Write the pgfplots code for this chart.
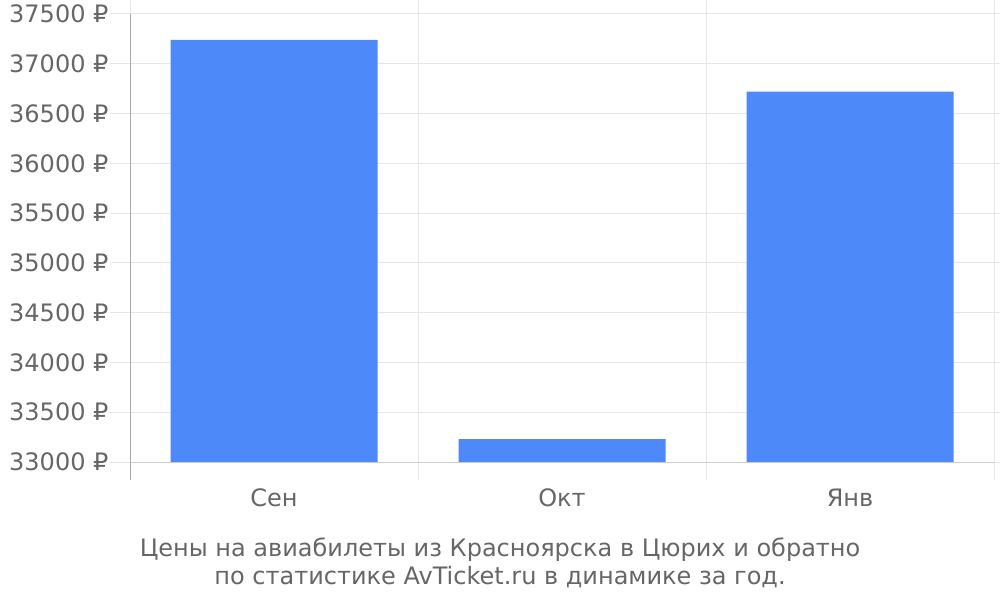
\documentclass[border=0pt]{standalone}
\usepackage{pgfplots}
\pgfplotsset{compat=1.18}
\usepackage{fontspec}
\setmainfont{DejaVu Sans}
\definecolor{barblue}{HTML}{4D89F9}
\definecolor{gridgray}{HTML}{E6E6E6}
\definecolor{axisgray}{HTML}{AAAAAA}
\definecolor{basegray}{HTML}{CCCCCC}
\definecolor{txtgray}{HTML}{666666}
\begin{document}
\begin{tikzpicture}[x=1pt,y=1pt]
\useasboundingbox (0,0) rectangle (1000,600);
\begin{axis}[
    at={(130pt,138pt)}, anchor=south west,
    scale only axis, width=864pt, height=448pt,
    xmin=-0.5, xmax=2.5, ymin=33000, ymax=37500,
    axis line style={draw=none},
    xtick={0,1,2}, xticklabels={Сен,Окт,Янв},
    major x tick style={draw=none},
    minor xtick={-0.5,0.5,1.5,2.5},
    minor x tick style={draw=gridgray, line width=1pt},
    minor tick length=18pt,
    minor x grid style={draw=gridgray, line width=1pt},
    xminorgrids=true,
    scaled y ticks=false,
    ytick={33000,33500,...,37500},
    yticklabel={\pgfmathprintnumber[fixed,precision=0,1000 sep={}]{\tick}~₽},
    ymajorgrids=true,
    major y grid style={draw=gridgray, line width=1pt},
    y tick style={draw=gridgray, line width=1pt},
    major tick length=20pt,
    tick align=outside,
    ticklabel style={font=\fontsize{24}{28}\selectfont, text=txtgray},
    xticklabel style={anchor=base, yshift=-24pt},
    yticklabel style={anchor=east, xshift=2pt},
    /pgf/number format/assume math mode=true,
    clip=false,
]
\addplot[ybar, bar width=207pt, fill=barblue, draw=none] coordinates {
    (0,37240) (1,33230) (2,36720)
};
\draw[basegray, line width=1pt] (axis cs:-0.5,33000) -- (axis cs:2.5,33000);
\draw[axisgray, line width=1pt] (axis cs:-0.5,37500) -- ([yshift=-18pt]axis cs:-0.5,33000);
\end{axis}
\node[anchor=base, text=txtgray, font=\fontsize{24}{28}\selectfont] at (500,44) {Цены на авиабилеты из Красноярска в Цюрих и обратно};
\node[anchor=base, text=txtgray, font=\fontsize{24}{28}\selectfont] at (500,16) {по статистике AvTicket.ru в динамике за год.};
\end{tikzpicture}
\end{document}
